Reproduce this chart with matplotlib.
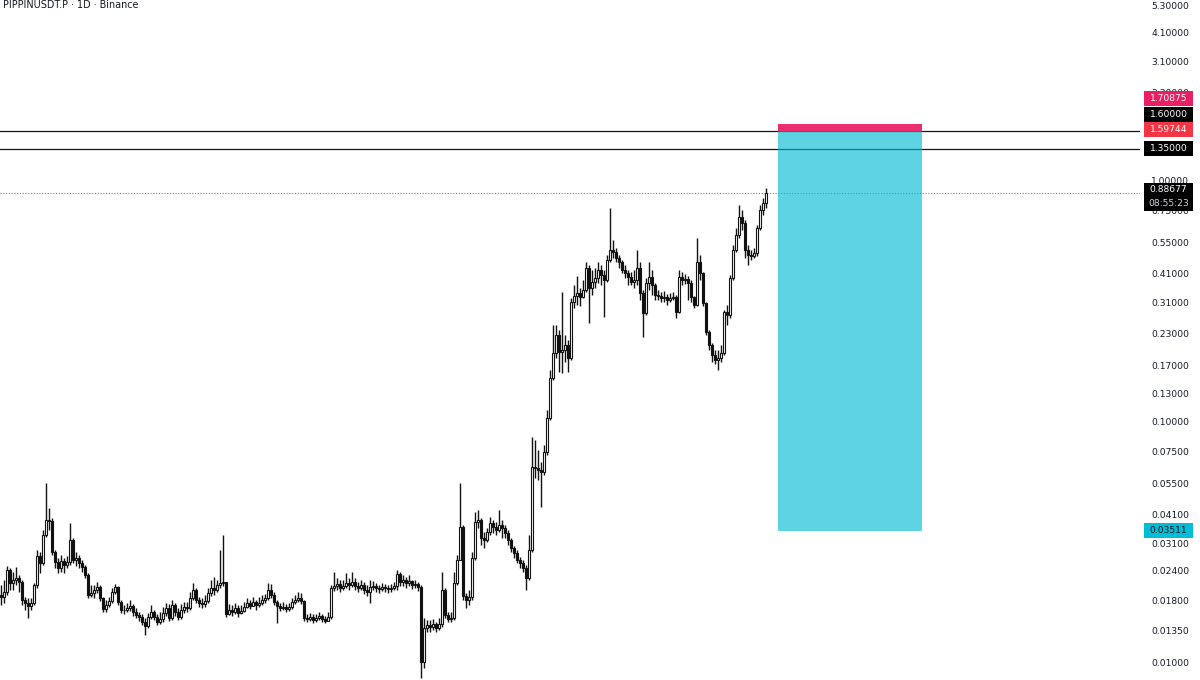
import matplotlib
matplotlib.use('Agg')
import matplotlib.pyplot as plt
from matplotlib.patches import Rectangle
from matplotlib.transforms import IdentityTransform
import numpy as np

# daily candles, PIPPINUSDT.P (open = previous close)
open0 = 0.01900
closes = [
    .01863, .01954, .02410, .02129, .02191, .02233, .02149, .01810, .01759, .01709,
    .01759, .02089, .02756, .02577, .03368, .03886, .03849, .02863, .02602, .02457,
    .02627, .02529, .02602, .03210, .02652, .02704, .02577, .02481, .02298, .01898,
    .01935, .01991, .02049, .01845, .01661, .01726, .01793, .01954, .02049, .01776,
    .01645, .01645, .01677, .01709, .01614, .01569, .01539, .01467, .01412, .01539,
    .01614, .01539, .01467, .01510, .01599, .01677, .01525, .01726, .01614, .01539,
    .01645, .01693, .01677, .01845, .01991, .01810, .01759, .01742, .01793, .01935,
    .02030, .01991, .02089, .02129, .02149, .01584, .01645, .01614, .01677, .01599,
    .01630, .01693, .01759, .01709, .01776, .01726, .01759, .01810, .01845, .01991,
    .01898, .01776, .01709, .01677, .01693, .01661, .01693, .01776, .01810, .01845,
    .01793, .01525, .01510, .01539, .01495, .01525, .01554, .01510, .01481, .01539,
    .02030, .02069, .02109, .02030, .02069, .02129, .02089, .02149, .02069, .02030,
    .02089, .01991, .01954, .02049, .02069, .02030, .02010, .02049, .02030, .02010,
    .02030, .02069, .02320, .02149, .02191, .02129, .02170, .02089, .02109, .02049,
    .01000, .01385, .01426, .01399, .01440, .01385, .01440, .01991, .01569, .01510,
    .01525, .02129, .02652, .03636, .01880, .01810, .01863, .02704, .03812, .03886,
    .03273, .03210, .03465, .03776, .03636, .03532, .03706, .03601, .03432, .03210,
    .02975, .02836, .02652, .02577, .02457, .02233, .02918, .06448, .06386, .06265,
    .06146, .07440, .1030, .1509, .1914, .2278, .1933, .1970, .2070, .1826,
    .3120, .3306, .3401, .3275, .3500, .4317, .3567, .3777, .3925, .4236,
    .4039, .3850, .4660, .5127, .5030, .4750, .4571, .4236, .4117, .3962,
    .3777, .3850, .4317, .3401, .2809, .3741, .3962, .3671, .3338, .3306,
    .3244, .3275, .3181, .3244, .3275, .2836, .3962, .3850, .3887, .3741,
    .3275, .3033, .4571, .4117, .3091, .2343, .2070, .1878, .1791, .1826,
    .1914, .2836, .2757, .3925, .5127, .5917, .7025, .6633, .5127, .4888,
    .4842, .4982, .6326, .7510, .8029, .88677,
]
highs = [
    .02089, .02191, .02505, .02457, .02365, .02481, .02298, .02191, .01863, .01845,
    .01845, .02129, .02918, .02863, .03532, .05537, .04359, .03962, .02918, .02704,
    .02782, .02704, .02756, .03776, .03273, .02863, .02782, .02652, .02529, .02342,
    .02089, .02089, .02149, .02089, .01863, .01810, .01863, .02030, .02109, .02069,
    .01810, .01726, .01759, .01810, .01742, .01677, .01614, .01584, .01525, .01599,
    .01726, .01645, .01584, .01614, .01693, .01759, .01742, .01810, .01759, .01677,
    .01742, .01776, .01776, .01954, .02129, .02030, .01863, .01845, .01898, .02030,
    .02191, .02254, .02191, .02918, .03368, .02149, .01742, .01726, .01759, .01726,
    .01726, .01776, .01845, .01810, .01863, .01810, .01863, .01898, .01917, .02129,
    .02109, .01954, .01810, .01759, .01776, .01742, .01759, .01845, .01898, .01954,
    .01935, .01810, .01584, .01599, .01584, .01584, .01614, .01584, .01554, .01614,
    .02089, .02365, .02233, .02191, .02191, .02342, .02233, .02365, .02233, .02149,
    .02191, .02149, .02089, .02191, .02170, .02129, .02089, .02129, .02109, .02089,
    .02109, .02149, .02410, .02365, .02298, .02254, .02298, .02191, .02191, .02149,
    .02089, .01525, .01495, .01495, .01510, .01467, .01525, .02365, .02030, .01614,
    .01614, .02365, .02782, .05537, .03706, .01935, .01991, .02863, .04194, .04276,
    .03962, .03465, .03601, .04003, .03886, .03812, .04276, .03886, .03706, .03532,
    .03273, .03032, .02918, .02730, .02652, .02529, .03368, .08594, .08343, .07583,
    .06762, .07955, .1111, .1628, .2506, .2506, .2389, .3433, .2278, .2171,
    .3244, .3671, .4006, .3567, .3850, .4571, .4444, .4236, .4317, .4571,
    .4444, .4236, .4888, .7655, .5640, .5226, .4888, .4660, .4444, .4236,
    .4155, .4236, .5127, .4571, .3500, .3925, .4571, .4236, .3741, .3500,
    .3433, .3466, .3370, .3401, .3433, .3338, .4236, .4155, .4078, .4006,
    .3850, .3306, .5750, .4888, .4155, .3120, .2389, .2110, .1970, .1970,
    .2070, .2891, .3033, .4039, .5378, .6326, .7878, .7510, .6826, .5378,
    .5127, .5226, .6508, .7878, .8421, .9265,
]
lows = [
    .01726, .01759, .01898, .01991, .01991, .02089, .01954, .01726, .01645, .01525,
    .01645, .01726, .02030, .02342, .02529, .03304, .03532, .02782, .02457, .02342,
    .02365, .02342, .02457, .02529, .02577, .02505, .02457, .02365, .02233, .01845,
    .01863, .01845, .01935, .01793, .01614, .01614, .01693, .01759, .01917, .01726,
    .01599, .01584, .01614, .01630, .01554, .01525, .01481, .01426, .01294, .01385,
    .01510, .01495, .01426, .01440, .01467, .01554, .01481, .01495, .01554, .01495,
    .01510, .01599, .01614, .01645, .01810, .01759, .01693, .01677, .01693, .01759,
    .01880, .01898, .01954, .02030, .02069, .01539, .01569, .01554, .01584, .01539,
    .01584, .01614, .01677, .01661, .01709, .01645, .01693, .01726, .01759, .01810,
    .01845, .01726, .01453, .01630, .01645, .01614, .01630, .01661, .01742, .01776,
    .01742, .01481, .01467, .01481, .01453, .01467, .01495, .01467, .01453, .01481,
    .01510, .01972, .01991, .01954, .01991, .02030, .01991, .02049, .01991, .01954,
    .01991, .01917, .01880, .01759, .01991, .01954, .01935, .01972, .01954, .01935,
    .01954, .01991, .01991, .02069, .02069, .02030, .02069, .02010, .02030, .01972,
    .00858, .00944, .01333, .01333, .01359, .01333, .01359, .01399, .01525, .01467,
    .01467, .01495, .02089, .02652, .01810, .01677, .01726, .01810, .02652, .03601,
    .03061, .02975, .03149, .03368, .03432, .03368, .03465, .03273, .03273, .03061,
    .02863, .02704, .02577, .02457, .02365, .01991, .02191, .02863, .05803, .05694,
    .04401, .05974, .07231, .1010, .1480, .1826, .1597, .1582, .1757, .1597,
    .1791, .2948, .3033, .3004, .3244, .3433, .2546, .3338, .3567, .3741,
    .3671, .2704, .3777, .4571, .4750, .4571, .4317, .4117, .3925, .3671,
    .3671, .3567, .3671, .3181, .2234, .2757, .3500, .3338, .3181, .3181,
    .3120, .3120, .3033, .3120, .3181, .2678, .2809, .3671, .3705, .3181,
    .3120, .2948, .3004, .3850, .3004, .2278, .1970, .1757, .1724, .1628,
    .1757, .1878, .2506, .2678, .3850, .5030, .5750, .6205, .4750, .4444,
    .4660, .4750, .4842, .6205, .7158, .7656,
]

# drawn levels / short position
line_levels = [1.60000, 1.35000]
last_price = 0.88677
countdown = '08:55:23'
entry = 1.59744
stop = 1.70875
target = 0.03511
box_start, box_end = 259, 307

ytick_vals = [5.3, 4.1, 3.1, 2.3, 1.0, 0.75, 0.55, 0.41, 0.31, 0.23, 0.17, 0.13,
              0.10, 0.075, 0.055, 0.041, 0.031, 0.024, 0.018, 0.0135, 0.010]

closes = np.array(closes)
highs = np.array(highs)
lows = np.array(lows)
opens = np.concatenate([[open0], closes[:-1]])
idx = np.arange(len(closes))

fig = plt.figure(figsize=(12, 6.8), dpi=100)
ax = fig.add_axes([0, 0, 1140 / 1200, 1])
ax.set_yscale('log')
ax.set_xlim(-1 / 3, 379.67)
ax.set_ylim(0.008422, 5.583)

up = closes >= opens
ax.vlines(idx, lows, highs, color='#111111', lw=1.0, zorder=3)
ax.bar(idx[up], closes[up] - opens[up], bottom=opens[up], width=0.7,
       color='white', edgecolor='#111111', lw=0.8, zorder=4)
ax.bar(idx[~up], opens[~up] - closes[~up], bottom=closes[~up], width=0.7,
       color='#111111', edgecolor='#111111', lw=0.8, zorder=4)

for lv in line_levels:
    ax.axhline(lv, color='#131313', lw=0.9, zorder=2)
ax.axhline(last_price, color='#7b7e86', lw=0.8, ls=(0, (1, 1.5)), zorder=2)

# position tool
ax.add_patch(Rectangle((box_start, entry), box_end - box_start, stop - entry,
                       fc='#ec2e6e', ec='none', zorder=5))
ax.add_patch(Rectangle((box_start, target), box_end - box_start, entry - target,
                       fc='#00bcd4', alpha=0.63, ec='none', zorder=5))

ax.set_yticks(ytick_vals)
ax.set_yticklabels(['%.5f' % v for v in ytick_vals])
ax.minorticks_off()
ax.yaxis.tick_right()
ax.tick_params(axis='y', length=0, pad=8, labelsize=6.6, labelcolor='#131722')
ax.set_xticks([])
for s in ax.spines.values():
    s.set_visible(False)

fig.text(3 / 1200, 1.0, 'PIPPINUSDT.P \u00b7 1D \u00b7 Binance', ha='left', va='top',
         fontsize=6.9, color='#131722')

ident = IdentityTransform()


def tag(price, txt, fc, tc='white', shift=0.0, h=15):
    yd = ax.transData.transform((0, price))[1] + shift
    fig.add_artist(Rectangle((1144, yd - h / 2), 49, h, transform=ident,
                             fc=fc, ec='none', zorder=5))
    fig.text(1168.5, yd, txt, transform=ident, ha='center', va='center',
             fontsize=6.6, color=tc, zorder=6)


tag(stop, '%.5f' % stop, '#e91e63', shift=25)
tag(line_levels[0], '%.5f' % line_levels[0], '#000000', shift=16)
tag(entry, '%.5f' % entry, '#f23645', shift=1)
tag(line_levels[1], '%.5f' % line_levels[1], '#000000')
tag(target, '%.5f' % target, '#00bcd4', tc='#131722')

yd = ax.transData.transform((0, last_price))[1]
fig.add_artist(Rectangle((1144, yd - 18.4), 49, 28, transform=ident,
                         fc='#000000', ec='none', zorder=5))
fig.text(1168.5, yd + 2.6, '%.5f' % last_price, transform=ident, ha='center',
         va='center', fontsize=6.6, color='white', zorder=6)
fig.text(1168.5, yd - 11.4, countdown, transform=ident, ha='center',
         va='center', fontsize=6.6, color='#d1d4dc', zorder=6)

fig.savefig('out.png', dpi=100)
